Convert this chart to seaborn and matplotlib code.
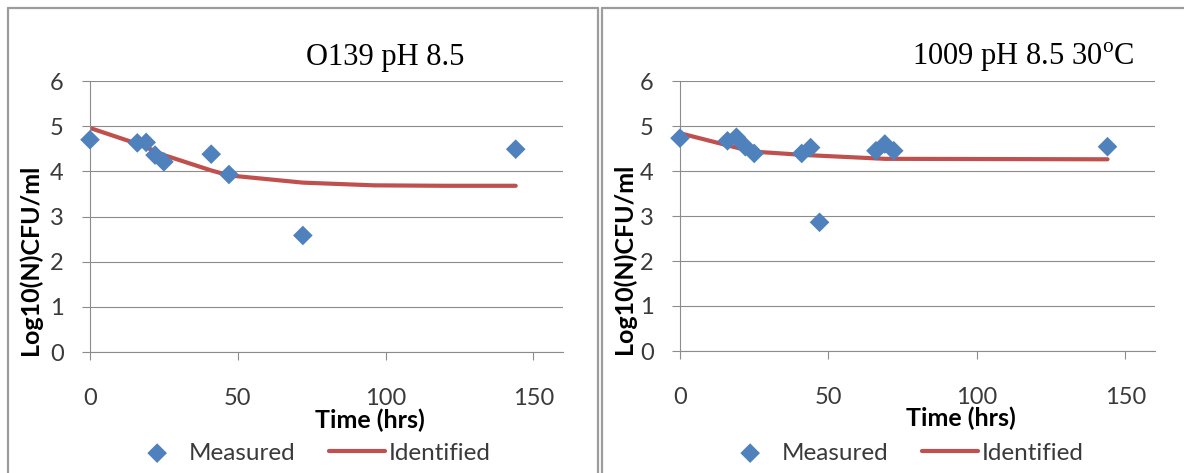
import numpy as np
import pandas as pd
import matplotlib
matplotlib.use("Agg")
import matplotlib.pyplot as plt
from matplotlib.lines import Line2D
import seaborn as sns

# ---- data -------------------------------------------------------------
o139_time = [0, 16, 19, 22, 25, 41, 47, 72, 144]
o139_measured = [4.70, 4.63, 4.64, 4.36, 4.21, 4.38, 3.93, 2.58, 4.49]
o139_fit_time = [0, 16, 19, 22, 25, 41, 47, 72, 96, 120, 144]
o139_identified = [4.96, 4.61, 4.53, 4.45, 4.36, 4.02, 3.91, 3.75, 3.69, 3.68, 3.68]

v1009_time = [0, 16, 19, 22, 25, 41, 44, 47, 66, 69, 72, 144]
v1009_measured = [4.73, 4.67, 4.75, 4.54, 4.39, 4.39, 4.52, 2.86, 4.45, 4.60, 4.45, 4.54]
v1009_fit_time = [0, 16, 19, 22, 25, 41, 44, 47, 66, 69, 72, 144]
v1009_identified = [4.84, 4.57, 4.52, 4.47, 4.43, 4.36, 4.35, 4.34, 4.28, 4.27, 4.27, 4.26]

titles = ["O139 pH 8.5", r"1009 pH 8.5 30$^{\mathrm{o}}$C"]
x_ticks = [0, 50, 100, 150]
y_ticks = [0, 1, 2, 3, 4, 5, 6]
x_label = "Time (hrs)"
y_label = "Log10(N)CFU/ml"
series_names = ["Measured", "Identified"]

# ---- style ------------------------------------------------------------
sns.set_theme(style="white")
plt.rcParams["font.family"] = ["Lato", "DejaVu Sans"]
plt.rcParams["mathtext.fontset"] = "custom"
plt.rcParams["mathtext.rm"] = "Liberation Serif"

BLUE = "#4F81BD"
RED = "#C0504D"
GRID = "#8C8C8C"
TEXT = "#3A3A3A"

W, H = 1184, 473
fig = plt.figure(figsize=(W / 100, H / 100), dpi=100)
fig.patch.set_facecolor("white")

# axes boxes in pixels: (left, bottom-from-top, width, height)
boxes = [(90, 352, 473, 271), (680, 351, 475, 270)]
panels = [
    (o139_time, o139_measured, o139_fit_time, o139_identified),
    (v1009_time, v1009_measured, v1009_fit_time, v1009_identified),
]
title_x = [0.624, 0.723]
legend_x = [310, 903]

for i, ((l, b, w, h), (t, m, ft, fv)) in enumerate(zip(boxes, panels)):
    ax = fig.add_axes([l / W, 1 - b / H, w / W, h / H])
    meas = pd.DataFrame({"time": t, "value": m})
    fit = pd.DataFrame({"time": ft, "value": fv})

    sns.lineplot(data=fit, x="time", y="value", color=RED, linewidth=3.0,
                 ax=ax, zorder=2, label=series_names[1])
    sns.scatterplot(data=meas, x="time", y="value", marker="D", s=100,
                    color=BLUE, edgecolor="none", ax=ax, zorder=3,
                    label=series_names[0], clip_on=False)

    ax.set_xlim(0, 160)
    ax.set_ylim(0, 6)
    ax.set_xticks(x_ticks)
    ax.set_yticks(y_ticks)
    ax.yaxis.grid(True, color=GRID, linewidth=0.8)
    ax.xaxis.grid(False)
    for side in ("top", "right"):
        ax.spines[side].set_visible(False)
    for side in ("left", "bottom"):
        ax.spines[side].set_color(GRID)
        ax.spines[side].set_linewidth(0.8)
    ax.tick_params(axis="x", direction="out", length=6, width=0.8,
                   color=GRID, pad=20, labelsize=17, labelcolor=TEXT,
                   bottom=True)
    ax.tick_params(axis="y", direction="out", length=6, width=0.8,
                   color=GRID, pad=13, labelsize=17, labelcolor=TEXT,
                   left=True)

    ax.set_xlabel(x_label, fontsize=18, fontweight="bold", color="black")
    ax.xaxis.set_label_coords(0.591, -0.251)
    ax.xaxis.label.set_va("center")
    ax.set_ylabel(y_label, fontsize=18, fontweight="bold", color="black",
                  va="center")
    ax.yaxis.set_label_coords(-0.127 if i == 0 else -0.118, 0.34)

    ax.set_title(titles[i], x=title_x[i], y=(b - 65) / h, pad=0,
                 fontsize=22, family="Liberation Serif", color="black")

    handles, labels = ax.get_legend_handles_labels()
    order = [labels.index(n) for n in series_names]
    ax.legend([handles[k] for k in order], [labels[k] for k in order],
              loc="center", bbox_to_anchor=(legend_x[i] / W, 1 - 453 / H),
              bbox_transform=fig.transFigure, ncol=2, frameon=False,
              fontsize=17.5, handlelength=2.3, handletextpad=0.15,
              columnspacing=1.4, borderaxespad=0, borderpad=0)
    for txt in ax.get_legend().get_texts():
        txt.set_color(TEXT)

# ---- panel frames -----------------------------------------------------
FRAME = "#9C9C9C"
def px_line(xs, ys):
    fig.add_artist(Line2D([x / W for x in xs], [1 - y / H for y in ys],
                          color=FRAME, linewidth=1.6,
                          transform=fig.transFigure))

px_line([7.5, 7.5], [8, H + 5])
px_line([7.5, 598], [8, 8])
px_line([598, 598], [8, H + 5])
px_line([601.5, 601.5], [8, H + 5])
px_line([601.5, W + 5], [8, 8])

fig.savefig("out.png", dpi=100, facecolor="white")
